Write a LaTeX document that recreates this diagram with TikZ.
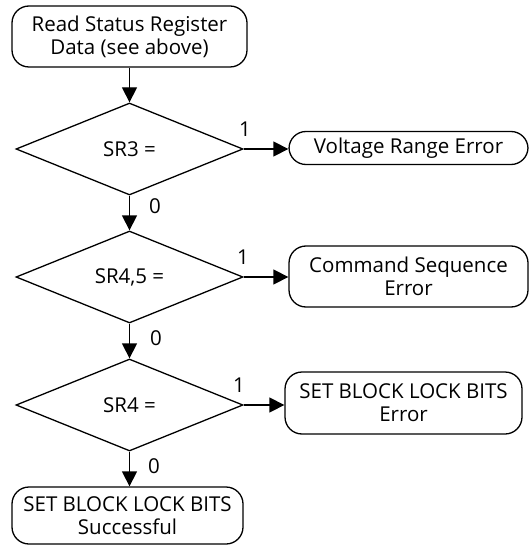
\documentclass[tikz,border=0pt]{standalone}
\usepackage{fontspec}
\setmainfont{Open Sans}
\usetikzlibrary{arrows.meta,shapes.geometric,positioning}

\begin{document}
\begin{tikzpicture}[x=1pt,y=-1pt,
  every node/.style={font=\fontsize{20.5}{23}\selectfont},
  term/.style={draw,line width=1.3pt,rounded corners=17pt,align=center,inner sep=0pt},
  test/.style={draw,diamond,line width=1.3pt,inner sep=0pt,minimum width=227pt,minimum height=92pt},
  flow/.style={line width=1.3pt,-{Triangle[length=15pt,width=15pt]}}]
  \useasboundingbox (0,0) rectangle (530,545);
  % Start box
  \node[term,minimum width=235pt,minimum height=61pt] (read) at (129.5,36.5) {Read Status Register\\Data (see above)};
  % Decisions
  \node[test] (sr3) at (129.5,149) {SR3 =};
  \node[test] (sr45) at (129.5,277) {SR4,5 =};
  \node[test] (sr4) at (129.5,405) {SR4 =};
  % Error boxes
  \node[term,minimum width=239pt,minimum height=33pt] (volt) at (408.5,148) {Voltage Range Error};
  \node[term,minimum width=239pt,minimum height=61pt] (cmd) at (408.5,276.5) {Command Sequence\\Error};
  \node[term,minimum width=237pt,minimum height=62pt] (blkerr) at (403.5,403) {SET BLOCK LOCK BITS\\Error};
  % End box
  \node[term,minimum width=231pt,minimum height=57pt] (done) at (127.5,515.5) {SET BLOCK LOCK BITS\\Successful};
  % Connectors
  \draw[flow] (read) -- (sr3);
  \draw[flow] (sr3) -- (sr45);
  \draw[flow] (sr45) -- (sr4);
  \draw[flow] (sr4.south) -- (sr4.south |- done.north);
  \draw[flow] (sr3.east) -- (sr3.east -| volt.west);
  \draw[flow] (sr45.east) -- (sr45.east -| cmd.west);
  \draw[flow] (sr4.east) -- (sr4.east -| blkerr.west);
  % Branch labels
  \node (one3) at (245,129) {1}; \node (zero3) at (155,206) {0};
  \node (one45) at (243,257) {1}; \node (zero45) at (156,338) {0};
  \node (one4) at (239,385) {1}; \node (zero4) at (154,466) {0};
\end{tikzpicture}
\end{document}
